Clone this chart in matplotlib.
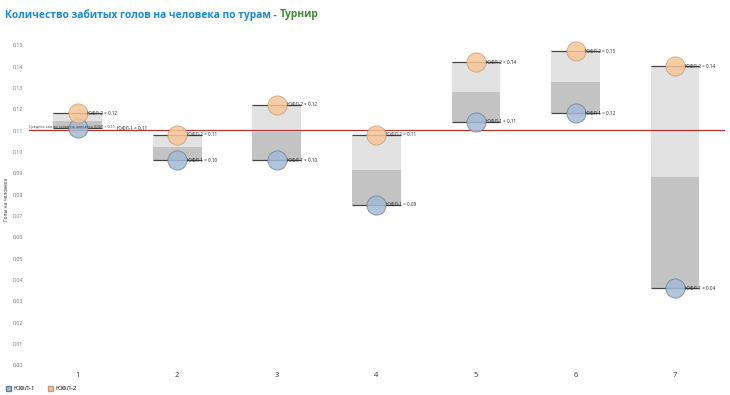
import numpy as np
import matplotlib.pyplot as plt
from matplotlib.patches import Patch
from matplotlib.ticker import FuncFormatter

plt.rcParams["font.family"] = ["Open Sans", "DejaVu Sans"]

# Data
TOURS = [1, 2, 3, 4, 5, 6, 7]
YFL1 = [0.111, 0.096, 0.096, 0.075, 0.114, 0.118, 0.036]
YFL2 = [0.118, 0.108, 0.122, 0.108, 0.142, 0.147, 0.140]
YFL1_LABELS = ["0.11", "0.10", "0.10", "0.08", "0.11", "0.12", "0.04"]
YFL2_LABELS = ["0.12", "0.11", "0.12", "0.11", "0.14", "0.15", "0.14"]
MEAN_VALUE = 0.11

BLUE_FILL = "#a3bad6"
BLUE_EDGE = "#6f7f92"
ORANGE_FILL = "#f6c597"
ORANGE_EDGE = "#c49c78"

fig = plt.figure(figsize=(7.3, 3.95), dpi=100)
ax = fig.add_axes([0.038, 0.076, 0.955, 0.8405])

x = np.array(TOURS, dtype=float)
lo = np.minimum(YFL1, YFL2)
hi = np.maximum(YFL1, YFL2)
mid = (lo + hi) / 2
width = 0.49

# light upper band, dark lower band
ax.bar(x, hi - mid, bottom=mid, width=width, color="#e2e2e2", zorder=1)
ax.bar(x, mid - lo, bottom=lo, width=width, color="#c3c3c3", zorder=1)
ax.hlines(hi, x - width / 2, x + width / 2, color="#444444", lw=0.9, zorder=2)
ax.hlines(lo, x - width / 2, x + width / 2, color="#444444", lw=0.9, zorder=2)

# average line
ax.axhline(MEAN_VALUE, xmin=0.002, xmax=1.0, color="#b5332e", lw=0.9, zorder=2)
mean_txt = ax.text(0.51, MEAN_VALUE + 0.0005, "Среднее кол-во голов на человека ЮФЛ = 0.11",
                   fontsize=2.7, color="#333333", va="bottom", ha="left", zorder=5)

ax.scatter(x, YFL1, s=190, color=BLUE_FILL, edgecolors=BLUE_EDGE, linewidths=0.6,
           alpha=0.85, zorder=3)
ax.scatter(x, YFL2, s=190, color=ORANGE_FILL, edgecolors=ORANGE_EDGE, linewidths=0.6,
           alpha=0.85, zorder=4)

ax.set_xlim(0.5, 7.5)
ax.set_ylim(0, 0.1556)

fig.canvas.draw()
mean_bb = mean_txt.get_window_extent()

for xi, v1, v2, l1, l2 in zip(x, YFL1, YFL2, YFL1_LABELS, YFL2_LABELS):
    for v, txt in [(v1, f"ЮФЛ-1 = {l1}"), (v2, f"ЮФЛ-2 = {l2}")]:
        t = ax.text(xi + 0.1, v, txt, fontsize=3.3, color="#222222",
                    va="center", ha="left", zorder=5)
        # push right if it collides with the mean label
        bb = t.get_window_extent(fig.canvas.get_renderer())
        if bb.overlaps(mean_bb):
            x_new = ax.transData.inverted().transform((mean_bb.x1 + 2, 0))[0]
            t.set_x(x_new)

ax.set_xticks(TOURS)
ax.set_xticklabels([str(t) for t in TOURS], fontsize=5.5, color="#333333")
ax.set_yticks(np.arange(0, 0.151, 0.01))
ax.yaxis.set_major_formatter(FuncFormatter(lambda v, p: f"{v:.2f}".replace(".", ",")))
ax.tick_params(axis="y", labelsize=3.8, labelcolor="#777777", length=0, pad=3)
ax.tick_params(axis="x", length=0, pad=5)
for s in ax.spines.values():
    s.set_visible(False)
ax.set_ylabel("Голы на человека", fontsize=3.6, color="#333333", labelpad=3)

# title in two colours
t1 = fig.text(0.007, 0.963, "Количество забитых голов на человека по турам - ",
              fontsize=7.4, fontweight="bold", color="#1a8ad4", va="center", ha="left")
fig.canvas.draw()
bb = t1.get_window_extent()
fig.text(bb.x1 / fig.bbox.width, 0.963, "Турнир", fontsize=7.4, fontweight="bold",
         color="#3b8a2f", va="center", ha="left")

handles = [Patch(facecolor=BLUE_FILL, edgecolor=BLUE_EDGE, label="ЮФЛ-1"),
           Patch(facecolor=ORANGE_FILL, edgecolor=ORANGE_EDGE, label="ЮФЛ-2")]
fig.legend(handles=handles, loc="lower left", bbox_to_anchor=(0.0, -0.005), ncol=2,
           frameon=False, fontsize=4.5, handlelength=0.8, handleheight=0.8,
           columnspacing=2.2, handletextpad=0.4)

fig.savefig("out.png", dpi=100)
